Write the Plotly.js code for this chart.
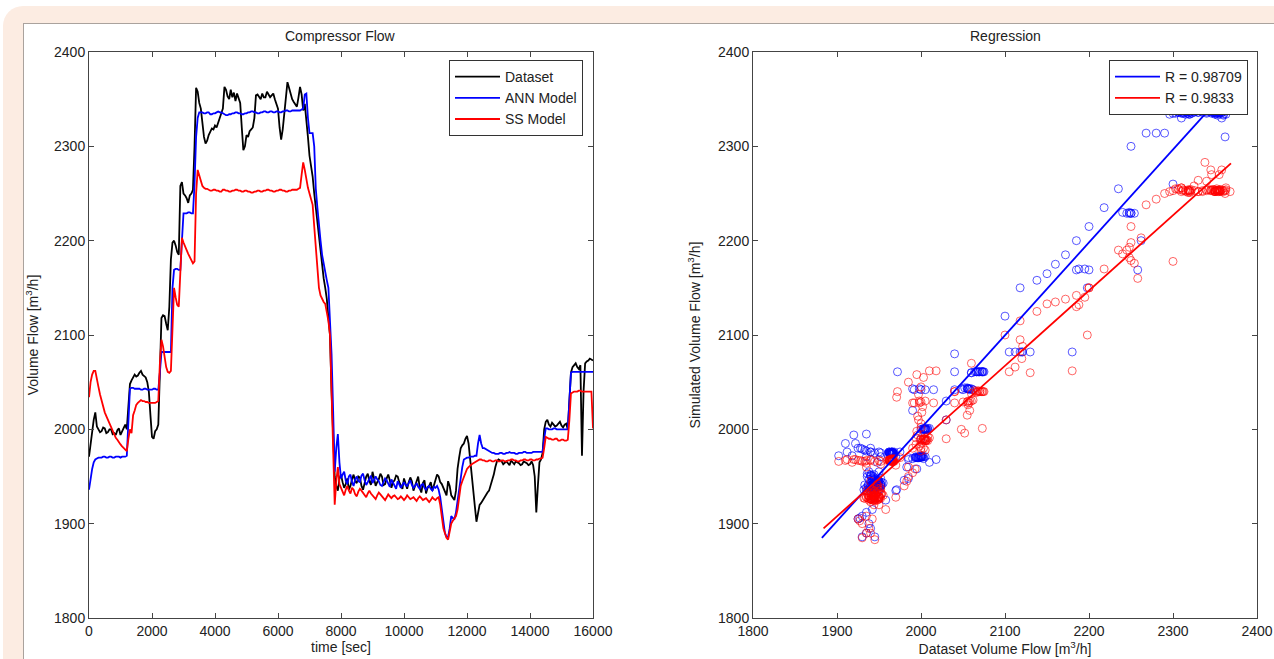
<!DOCTYPE html>
<html><head><meta charset="utf-8">
<script src="https://cdn.plot.ly/plotly-3.0.1.min.js"></script>
<style>
html,body{margin:0;padding:0;background:#fff;width:1274px;height:659px;overflow:hidden;}
#frame{position:absolute;left:3px;top:6px;width:1320px;height:720px;background:#fcece2;border-radius:20px;}
#panel{position:absolute;left:23px;top:23px;width:1300px;height:700px;background:#fff;border-top:1px solid #aaa29d;border-left:1px solid #aaa29d;}
#chart{position:absolute;left:0;top:0;width:1274px;height:659px;}
</style></head><body>
<div id="frame"></div><div id="panel"></div><div id="chart"></div>
<script>
// sampling step of the time series [sec]
var SAMPLE_STEP = 50;

// Dataset (measured compressor volume flow), one value per 50 s, 0..16000 s
var dataset = [
 1971,1985,1995,2010,2018,2003,2000,1997,1998,2002,2001,1996,1997,2000,2000,1995,1996,1994,1999,2001,
 1994,1998,2003,2005,2000,2030,2048,2052,2055,2058,2056,2057,2060,2062,2058,2056,2055,2050,2040,2015,
 1992,1990,1998,2000,2005,2060,2118,2121,2120,2112,2105,2130,2180,2198,2200,2195,2188,2185,2258,2262,
 2250,2248,2245,2240,2248,2250,2254,2300,2362,2358,2346,2340,2325,2310,2303,2306,2312,2315,2319,2318,
 2322,2320,2326,2330,2335,2340,2363,2360,2353,2350,2360,2352,2357,2348,2356,2350,2346,2320,2296,2300,
 2312,2310,2316,2318,2320,2330,2354,2355,2353,2350,2356,2352,2352,2358,2355,2352,2354,2356,2350,2345,
 2340,2320,2307,2318,2335,2350,2368,2362,2356,2350,2347,2345,2342,2352,2363,2355,2338,2345,2330,2310,
 2290,2280,2268,2250,2235,2218,2200,2185,2172,2160,2150,2138,2118,2100,2040,1990,1950,1940,1935,1948,
 1952,1944,1938,1942,1948,1936,1940,1947,1952,1945,1943,1950,1949,1940,1936,1943,1950,1953,1945,1941,
 1955,1948,1940,1944,1947,1953,1950,1941,1942,1948,1952,1946,1938,1944,1946,1951,1950,1944,1941,1937,
 1948,1942,1937,1944,1949,1945,1935,1940,1945,1950,1938,1933,1943,1946,1932,1938,1940,1944,1935,1940,
 1945,1952,1950,1944,1942,1938,1935,1930,1945,1940,1930,1927,1925,1935,1958,1970,1980,1983,1985,1990,
 1993,1985,1970,1952,1935,1918,1902,1910,1920,1922,1925,1928,1930,1933,1935,1940,1945,1952,1960,1966,
 1968,1967,1966,1963,1965,1966,1964,1962,1967,1965,1963,1966,1965,1964,1962,1963,1966,1965,1964,1962,
 1963,1966,1962,1950,1912,1940,1965,1968,1975,2000,2008,2010,2005,2003,2007,2005,2003,2004,2006,2008,
 2004,2002,2005,2006,2000,2030,2060,2066,2068,2070,2066,2064,2068,1972,2040,2070,2072,2073,2075,2074,
 2073
];

// ANN model output
var annModel = [
 1936,1948,1958,1965,1968,1969,1970,1970,1970,1971,1971,1970,1970,1971,1971,1970,1970,1971,1971,1971,
 1970,1971,1971,1971,1972,2010,2043,2044,2044,2043,2043,2043,2043,2042,2042,2043,2043,2042,2042,2042,
 2042,2043,2043,2042,2042,2060,2082,2082,2082,2082,2082,2082,2082,2150,2169,2170,2170,2169,2169,2200,
 2229,2229,2229,2230,2230,2229,2229,2260,2310,2330,2336,2336,2336,2335,2335,2336,2336,2334,2334,2335,
 2335,2336,2337,2336,2336,2335,2334,2333,2333,2334,2334,2335,2335,2336,2336,2335,2335,2334,2334,2335,
 2335,2336,2336,2337,2337,2336,2336,2335,2335,2336,2336,2337,2337,2336,2336,2337,2337,2336,2336,2337,
 2337,2336,2336,2337,2337,2338,2338,2337,2337,2338,2338,2338,2338,2338,2338,2339,2340,2355,2356,2330,
 2314,2314,2314,2300,2255,2235,2215,2200,2185,2175,2165,2158,2150,2120,2080,2020,1955,1980,1995,1965,
 1948,1952,1955,1946,1942,1950,1952,1944,1940,1947,1950,1945,1944,1951,1953,1946,1941,1944,1948,1951,
 1943,1946,1950,1947,1945,1941,1940,1944,1948,1946,1942,1939,1947,1943,1940,1937,1945,1942,1938,1941,
 1944,1941,1940,1943,1946,1941,1938,1940,1943,1939,1937,1941,1942,1938,1936,1939,1940,1937,1935,1939,
 1938,1940,1936,1928,1915,1900,1890,1886,1886,1895,1908,1906,1905,1912,1925,1935,1946,1960,1968,1969,
 1970,1970,1971,1971,1971,1972,1972,1985,1994,1985,1980,1980,1979,1978,1977,1976,1975,1975,1974,1974,
 1974,1975,1975,1974,1974,1975,1975,1976,1975,1975,1975,1974,1974,1975,1975,1975,1976,1976,1975,1975,
 1975,1975,1976,1976,1976,1976,1976,1976,1976,1990,2001,2001,2000,2000,2000,2001,2001,2000,2000,2000,
 2000,2000,2000,2000,2000,2030,2060,2061,2061,2061,2061,2061,2061,2061,2061,2061,2061,2061,2061,2061,
 2061
];

// State-space model output
var ssModel = [
 2034,2050,2058,2062,2062,2055,2045,2037,2030,2024,2018,2014,2010,2006,2002,1998,1994,1991,1989,1986,
 1984,1982,1980,1978,1977,1990,2000,1996,2015,2020,2026,2028,2030,2031,2030,2030,2029,2029,2028,2028,
 2028,2028,2028,2029,2030,2070,2095,2088,2075,2066,2061,2060,2062,2100,2150,2140,2132,2130,2160,2203,
 2198,2193,2190,2186,2182,2179,2176,2178,2250,2275,2270,2263,2258,2256,2255,2255,2254,2253,2253,2254,
 2254,2253,2253,2252,2252,2254,2254,2253,2253,2252,2252,2253,2253,2254,2254,2253,2253,2252,2252,2253,
 2253,2252,2252,2251,2251,2252,2252,2253,2253,2252,2252,2253,2253,2254,2254,2253,2253,2252,2252,2253,
 2253,2254,2254,2253,2253,2252,2252,2253,2253,2254,2254,2254,2254,2255,2256,2270,2283,2275,2264,2256,
 2250,2244,2238,2215,2190,2170,2150,2142,2138,2135,2133,2125,2115,2100,2040,1980,1920,1945,1960,1942,
 1938,1934,1930,1936,1940,1935,1932,1938,1936,1931,1929,1934,1937,1935,1933,1930,1928,1932,1935,1932,
 1930,1928,1926,1930,1933,1931,1929,1926,1925,1928,1931,1929,1927,1929,1930,1928,1926,1927,1929,1927,
 1925,1927,1930,1928,1926,1927,1928,1926,1924,1927,1929,1927,1925,1926,1927,1925,1923,1925,1928,1926,
 1925,1927,1928,1920,1905,1895,1890,1885,1883,1890,1900,1903,1905,1908,1915,1928,1940,1945,1950,1954,
 1958,1960,1962,1963,1964,1965,1966,1967,1968,1968,1967,1967,1966,1966,1967,1967,1966,1966,1967,1967,
 1966,1966,1967,1967,1966,1966,1967,1967,1968,1968,1967,1967,1966,1966,1967,1967,1968,1968,1967,1967,
 1968,1968,1967,1967,1968,1968,1969,1969,1970,1980,1992,1991,1990,1990,1989,1989,1990,1990,1988,1988,
 1989,1989,1988,1988,1989,2010,2038,2039,2040,2040,2040,2041,2041,2040,2040,2040,2040,2040,2040,2040,
 2001
];

// Regression fit lines (dataset flow -> simulated flow)
var annFitX = [1882, 2340], annFitY = [1885, 2336];
var ssFitX  = [1884, 2369], ssFitY  = [1895, 2282];
var annR = '0.98709', ssR = '0.9833';

// Tick labels
var timeTicks = [0,2000,4000,6000,8000,10000,12000,14000,16000];
var flowTicks = [1800,1900,2000,2100,2200,2300,2400];

var time = dataset.map(function(_, i){ return i * SAMPLE_STEP; });

var W = 1274, H = 659;
function fx(p){ return p / W; }
function fy(p){ return 1 - p / H; }

var FONT = 'Liberation Sans, Arial, Helvetica, sans-serif';
var TXT = '#222';
var AX = '#444';

var traces = [
 {x: time, y: dataset, type:'scatter', mode:'lines', name:'Dataset', line:{color:'#000000', width:1.8}, xaxis:'x', yaxis:'y', legend:'legend'},
 {x: time, y: annModel, type:'scatter', mode:'lines', name:'ANN Model', line:{color:'#0000ff', width:1.8}, xaxis:'x', yaxis:'y', legend:'legend'},
 {x: time, y: ssModel, type:'scatter', mode:'lines', name:'SS Model', line:{color:'#ff0000', width:1.8}, xaxis:'x', yaxis:'y', legend:'legend'},
 {x: dataset, y: annModel, type:'scatter', mode:'markers', showlegend:false, hoverinfo:'skip',
  marker:{symbol:'circle-open', size:8, color:'rgba(0,0,255,0.65)', line:{width:1}}, xaxis:'x2', yaxis:'y2'},
 {x: dataset, y: ssModel, type:'scatter', mode:'markers', showlegend:false, hoverinfo:'skip',
  marker:{symbol:'circle-open', size:8, color:'rgba(255,0,0,0.6)', line:{width:1}}, xaxis:'x2', yaxis:'y2'},
 {x: annFitX, y: annFitY, type:'scatter', mode:'lines', name:'R = ' + annR, line:{color:'#0000ff', width:1.8}, xaxis:'x2', yaxis:'y2', legend:'legend2'},
 {x: ssFitX, y: ssFitY, type:'scatter', mode:'lines', name:'R = ' + ssR, line:{color:'#ff0000', width:1.8}, xaxis:'x2', yaxis:'y2', legend:'legend2'}
];

function axisBase(){
 return {showline:true, linecolor:AX, linewidth:1, mirror:'ticks', ticks:'inside', ticklen:5, tickcolor:AX,
   showgrid:false, zeroline:false, tickfont:{family:FONT, size:14, color:TXT}, fixedrange:true};
}
var xa = axisBase(); xa.domain=[fx(89), fx(593)]; xa.range=[0,16000]; xa.tickvals=timeTicks; xa.ticktext=timeTicks.map(String); xa.anchor='y';
xa.title={text:'time [sec]', font:{family:FONT, size:14, color:TXT}, standoff:2};
var ya = axisBase(); ya.domain=[fy(618), fy(52)]; ya.range=[1800,2400]; ya.tickvals=flowTicks; ya.ticktext=flowTicks.map(String); ya.anchor='x';
ya.title={text:'Volume Flow [m<sup>3</sup>/h]', font:{family:FONT, size:14, color:TXT}, standoff:12};
var xa2 = axisBase(); xa2.domain=[fx(753), fx(1257)]; xa2.range=[1800,2400]; xa2.tickvals=flowTicks; xa2.ticktext=flowTicks.map(String); xa2.anchor='y2';
xa2.title={text:'Dataset Volume Flow [m<sup>3</sup>/h]', font:{family:FONT, size:14, color:TXT}, standoff:4};
var ya2 = axisBase(); ya2.domain=[fy(618), fy(52)]; ya2.range=[1800,2400]; ya2.tickvals=flowTicks; ya2.ticktext=flowTicks.map(String); ya2.anchor='x2';
ya2.title={text:'Simulated Volume Flow [m<sup>3</sup>/h]', font:{family:FONT, size:14, color:TXT}, standoff:14};

var legendBase = {bgcolor:'#ffffff', bordercolor:'#333', borderwidth:1, font:{family:FONT, size:14, color:TXT},
  itemwidth:45, xanchor:'left', yanchor:'top', tracegroupgap:0, itemclick:false, itemdoubleclick:false};
var lg1 = Object.assign({}, legendBase, {x: fx(449), y: fy(60)});
var lg2 = Object.assign({}, legendBase, {x: fx(1109), y: fy(60)});

var layout = {
 width:W, height:H, margin:{l:0,r:0,t:0,b:0,pad:0},
 paper_bgcolor:'rgba(0,0,0,0)', plot_bgcolor:'#ffffff',
 font:{family:FONT, size:14, color:TXT},
 xaxis:xa, yaxis:ya, xaxis2:xa2, yaxis2:ya2,
 legend:lg1, legend2:lg2, showlegend:true,
 annotations:[
  {text:'Compressor Flow', x:fx(341), y:fy(36), xref:'paper', yref:'paper', xanchor:'center', yanchor:'middle', showarrow:false, font:{family:FONT, size:14, color:TXT}},
  {text:'Regression', x:fx(1005), y:fy(36), xref:'paper', yref:'paper', xanchor:'center', yanchor:'middle', showarrow:false, font:{family:FONT, size:14, color:TXT}}
 ]
};

Plotly.newPlot('chart', traces, layout, {displayModeBar:false, staticPlot:true});
</script>
</body></html>
